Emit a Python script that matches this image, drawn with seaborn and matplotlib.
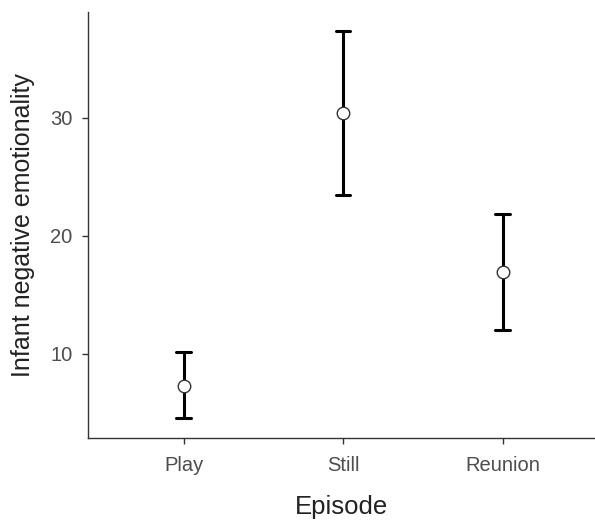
import matplotlib
matplotlib.use("Agg")
import matplotlib.pyplot as plt
import seaborn as sns
import pandas as pd

episodes = ["Play", "Still", "Reunion"]
means = [7.25, 30.45, 16.9]
lower = [4.5, 23.47, 11.97]
upper = [10.1, 37.4, 21.86]

rows = []
for ep, lo, m, hi in zip(episodes, lower, means, upper):
    for v in (lo, m, hi):
        rows.append({"Episode": ep, "value": v})
df = pd.DataFrame(rows)

sns.set_theme(style="white")
plt.rcParams["font.family"] = ["Liberation Sans", "DejaVu Sans"]

fig = plt.figure(figsize=(5.95, 5.32), dpi=100)
ax = fig.add_axes([88 / 595, (532 - 438.3) / 532, 1 - 88 / 595, (438.3 - 12) / 532])

sns.pointplot(
    data=df, x="Episode", y="value", order=episodes,
    estimator="median", errorbar=("pi", 100),
    linestyle="none", color="black", capsize=0.09,
    err_kws={"linewidth": 2.2, "color": "black"},
    markers="o", markersize=9, markerfacecolor="white",
    markeredgecolor="#333333", markeredgewidth=1.0,
    ax=ax,
)
for ln in ax.lines:
    if ln.get_marker() not in (None, "None", "", " "):
        ln.set_zorder(10)

ax.set_xlim(-0.6, 2.58)
ax.set_ylim(2.8, 39)
ax.set_yticks([10, 20, 30])
ax.set_yticklabels(["10", "20", "30"])

for s in ["top", "right"]:
    ax.spines[s].set_visible(False)
for s in ["left", "bottom"]:
    ax.spines[s].set_color("#333333")
    ax.spines[s].set_linewidth(1.0)

ax.tick_params(axis="both", which="both", length=4, width=1, color="#333333",
               labelsize=14.5, labelcolor="#4d4d4d", left=True, bottom=True)
ax.tick_params(axis="x", pad=9)
ax.tick_params(axis="y", pad=7)
ax.set_xlabel("Episode", fontsize=18.5, color="#222222", labelpad=14)
ax.set_ylabel("Infant negative emotionality", fontsize=18, color="#222222", labelpad=11)

fig.savefig("out.png", dpi=100)
